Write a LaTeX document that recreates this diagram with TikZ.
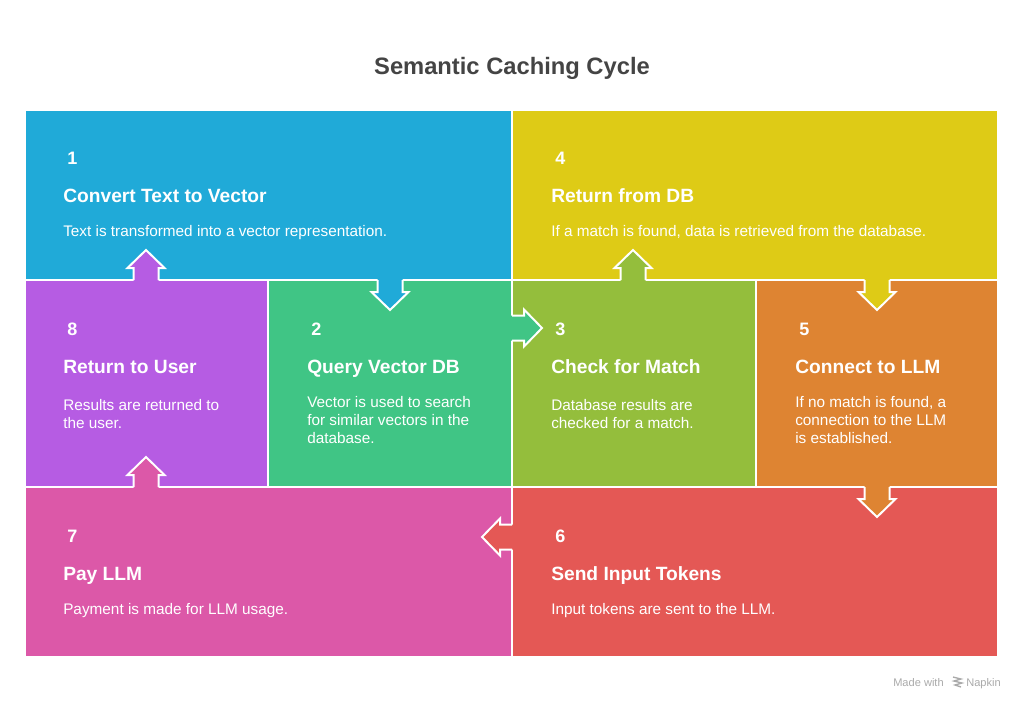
\documentclass[tikz,border=0pt]{standalone}
\usepackage{fontspec}
\setmainfont{Liberation Sans}
\definecolor{cblue}{HTML}{20AAD8}
\definecolor{cyellow}{HTML}{DECB16}
\definecolor{cpurple}{HTML}{B65CE3}
\definecolor{cgreen}{HTML}{40C585}
\definecolor{cygreen}{HTML}{94BE3C}
\definecolor{corange}{HTML}{DE8432}
\definecolor{cpink}{HTML}{DC58A8}
\definecolor{cred}{HTML}{E45855}
\definecolor{ctitle}{HTML}{444444}
\definecolor{cfoot}{HTML}{AAAAAA}
\newcommand\blkarrow[5]{% name x y angle color
  \begin{scope}[shift={(#2,#3)},rotate=#4]
    \coordinate (#1) at (0,0);
    \fill[#5] (-3,-12.5) -- (12,-12.5) -- (12,-18.5) -- (30,0) -- (12,18.5) -- (12,12.5) -- (-3,12.5) -- cycle;
    \draw[arrline] (0,-12.5) -- (12,-12.5) -- (12,-18.5) -- (30,0) -- (12,18.5) -- (12,12.5) -- (0,12.5);
  \end{scope}}
\begin{document}
\begin{tikzpicture}[x=0.75pt,y=-0.75pt,
  blk/.style={draw=white,line width=1.5pt},
  arrline/.style={draw=white,line width=1.5pt,line join=miter},
  num/.style={anchor=base west,inner sep=0,text=white,font=\fontsize{13.5}{16}\bfseries\selectfont},
  head/.style={anchor=base west,inner sep=0,text=white,font=\fontsize{14.4}{17}\bfseries\selectfont},
  body/.style={anchor=base west,inner sep=0,text=white,align=left,font=\fontsize{11.5}{13.5}\selectfont}]
\useasboundingbox (0,0) rectangle (1024,707);
\fill[white] (0,0) rectangle (1024,707);
\node[anchor=base,inner sep=0,text=ctitle,font=\fontsize{17.8}{20}\bfseries\selectfont] (title) at (512,74) {Semantic Caching Cycle};
% blocks
\filldraw[blk,fill=cblue] (25,110) rectangle (512,280);
\filldraw[blk,fill=cyellow] (512,110) rectangle (998,280);
\filldraw[blk,fill=cpurple] (25,280) rectangle (268,487);
\filldraw[blk,fill=cgreen] (268,280) rectangle (512,487);
\filldraw[blk,fill=cygreen] (512,280) rectangle (756,487);
\filldraw[blk,fill=corange] (756,280) rectangle (998,487);
\filldraw[blk,fill=cpink] (25,487) rectangle (512,657);
\filldraw[blk,fill=cred] (512,487) rectangle (998,657);
% arrows
\blkarrow{a12}{390}{280}{-90}{cblue}
\blkarrow{a23}{512}{328}{0}{cgreen}
\blkarrow{a34}{633}{280}{90}{cygreen}
\blkarrow{a45}{877}{280}{-90}{cyellow}
\blkarrow{a56}{877}{487}{-90}{corange}
\blkarrow{a67}{512}{537}{180}{cred}
\blkarrow{a78}{146}{487}{90}{cpink}
\blkarrow{a81}{146}{280}{90}{cpurple}
% block 1
\node[num] (n1) at (67,164.5) {1};
\node[head] (h1) at (63,202) {Convert Text to Vector};
\node[body] (b1) at (63,236.5) {Text is transformed into a vector representation.};
% block 4
\node[num] (n4) at (555,164.5) {4};
\node[head] (h4) at (551,202) {Return from DB};
\node[body] (b4) at (551,236.5) {If a match is found, data is retrieved from the database.};
% block 8
\node[num] (n8) at (67,335.5) {8};
\node[head] (h8) at (63,373) {Return to User};
\node[body] (b8) at (63,428) {Results are returned to\\the user.};
% block 2
\node[num] (n2) at (311,335.5) {2};
\node[head] (h2) at (307,373) {Query Vector DB};
\node[body] (b2) at (307,443) {Vector is used to search\\for similar vectors in the\\database.};
% block 3
\node[num] (n3) at (555,335.5) {3};
\node[head] (h3) at (551,373) {Check for Match};
\node[body] (b3) at (551,428) {Database results are\\checked for a match.};
% block 5
\node[num] (n5) at (799,335.5) {5};
\node[head] (h5) at (795,373) {Connect to LLM};
\node[body] (b5) at (795,443) {If no match is found, a\\connection to the LLM\\is established.};
% block 7
\node[num] (n7) at (67,542.5) {7};
\node[head] (h7) at (63,580) {Pay LLM};
\node[body] (b7) at (63,614) {Payment is made for LLM usage.};
% block 6
\node[num] (n6) at (555,542.5) {6};
\node[head] (h6) at (551,580) {Send Input Tokens};
\node[body] (b6) at (551,614) {Input tokens are sent to the LLM.};
% footer
\node[anchor=base west,inner sep=0,text=cfoot,font=\fontsize{8.3}{10}\selectfont] (mw) at (893,686) {Made with};
\node[anchor=base west,inner sep=0,text=cfoot,font=\fontsize{8.3}{10}\selectfont] (nap) at (966,686) {Napkin};
\draw[cfoot,line width=1pt] (953,677) -- (961,679) -- (954,681) -- (962,683) -- (955,685) -- (961,687);
\end{tikzpicture}
\end{document}
